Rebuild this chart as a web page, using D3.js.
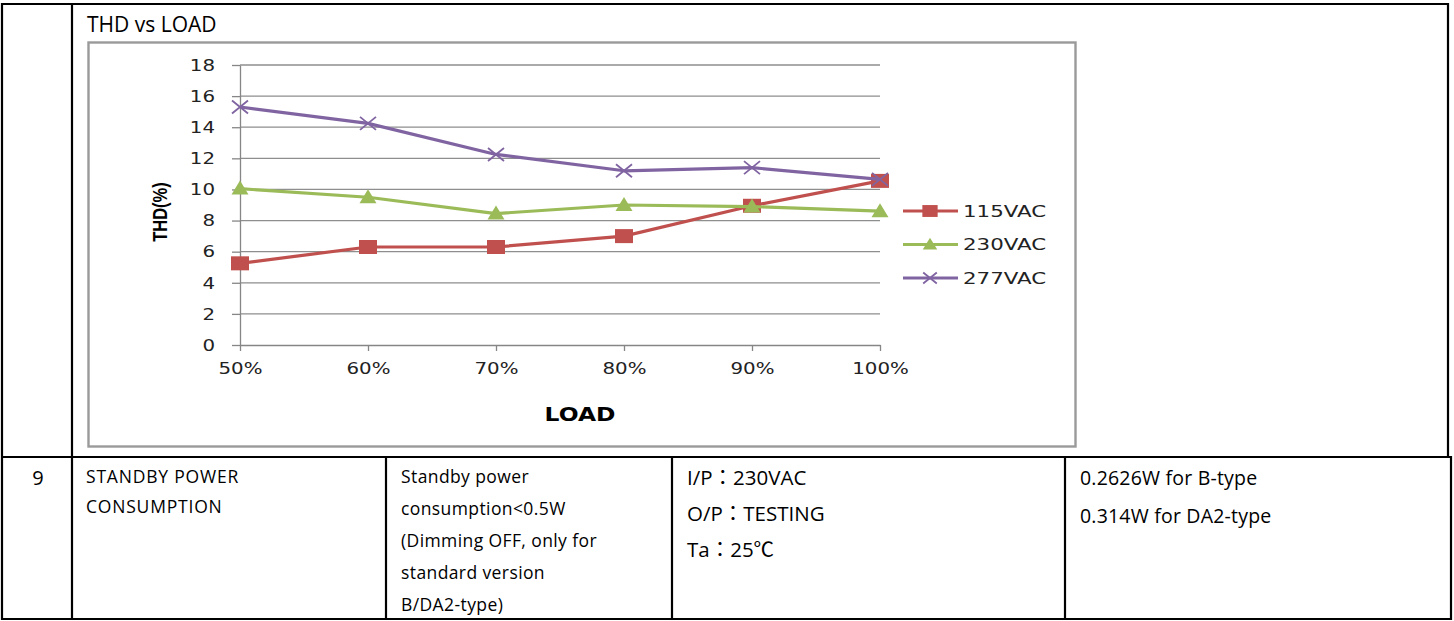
<!DOCTYPE html>
<html><head><meta charset="utf-8">
<script src="https://cdn.jsdelivr.net/npm/d3@7"></script>
<style>
html,body{margin:0;padding:0;background:#fff;}
svg{display:block;}
</style></head>
<body>
<svg id="c" width="1454" height="621"></svg>
<script>
const categories = ["50%","60%","70%","80%","90%","100%"];
const seriesNames = ["115VAC","230VAC","277VAC"];
const v115 = [5.25, 6.3, 6.3, 7.0, 8.95, 10.55];
const v230 = [10.05, 9.5, 8.45, 9.0, 8.9, 8.6];
const v277 = [15.3, 14.25, 12.25, 11.2, 11.4, 10.65];
const yTicks = [0,2,4,6,8,10,12,14,16,18];
const chartTitle = "THD vs LOAD";
const xTitle = "LOAD";
const yTitle = "THD(%)";
const rowNo = "9";
const col2Lines = ["STANDBY POWER","CONSUMPTION"];
const col3Lines = ["Standby power","consumption<0.5W","(Dimming OFF, only for","standard version","B/DA2-type)"];
const col4Lines = ["I/P：230VAC","O/P：TESTING","Ta：25℃"];
const col5Lines = ["0.2626W for B-type","0.314W for DA2-type"];

const colors = {"115VAC":"#C0504D","230VAC":"#9BBB59","277VAC":"#8064A2"};
const series = [
  {name:"115VAC", values:v115, marker:"square"},
  {name:"230VAC", values:v230, marker:"triangle"},
  {name:"277VAC", values:v277, marker:"cross"}
];

const svg = d3.select("#c");

// ---- table lines ----
const tl = svg.append("g").attr("stroke","#000").attr("stroke-width",2.2);
const L = (x1,y1,x2,y2)=>tl.append("line").attr("x1",x1).attr("y1",y1).attr("x2",x2).attr("y2",y2);
L(1,4,1449,4);
L(2,3,2,620);
L(72,3,72,620);
L(1448,3,1448,457);
L(1,457,1452,457);
L(1451,456,1451,620);
L(1,619,1452,619);
L(386,457,386,620);
L(672,457,672,620);
L(1065,457,1065,620);

const tf = "Open Sans, Noto Sans CJK TC";

// ---- chart title ----
svg.append("text").attr("x",87).attr("y",32).text(chartTitle)
  .attr("font-family",tf).attr("font-size",21).attr("fill","#000");

// ---- chart box ----
svg.append("rect").attr("x",88.5).attr("y",42.5).attr("width",987).attr("height",404)
  .attr("fill","#fff").attr("stroke","#9a9a9a").attr("stroke-width",2.4);

// ---- scales ----
const x = d3.scalePoint().domain(categories).range([240,880]);
const y = d3.scaleLinear().domain([0,18]).range([345,65]);

const chartFont = "DejaVu Sans";
const SX = 1.2; // horizontal stretch of chart lettering

// gridlines
svg.append("g").selectAll("line").data(yTicks.filter(d=>d>0)).join("line")
  .attr("x1",240).attr("x2",880).attr("y1",d=>y(d)).attr("y2",d=>y(d))
  .attr("stroke","#8e8e8e").attr("stroke-width",1.3);

// y axis
const gy = svg.append("g").attr("transform","translate(240,0)")
  .call(d3.axisLeft(y).tickValues(yTicks).tickSize(8).tickPadding(16).tickSizeOuter(0));
gy.select(".domain").attr("stroke","#868686").attr("stroke-width",1.3);
gy.selectAll(".tick line").attr("stroke","#868686").attr("stroke-width",1.3);
gy.selectAll(".tick text").attr("font-family",chartFont).attr("font-size",16.5)
  .attr("fill","#222").attr("x",-25/SX).attr("transform",`scale(${SX},1)`);

// x axis
const gx = svg.append("g").attr("transform","translate(0,345)")
  .call(d3.axisBottom(x).tickSize(6).tickPadding(11).tickSizeOuter(0));
gx.select(".domain").attr("stroke","#868686").attr("stroke-width",1.3);
gx.selectAll(".tick line").attr("stroke","#868686").attr("stroke-width",1.3);
gx.selectAll(".tick text").attr("font-family",chartFont).attr("font-size",16.5)
  .attr("fill","#222").attr("transform",`scale(${SX},1)`);

// axis titles
svg.append("text").attr("transform",`translate(580,421) scale(${SX},1)`).attr("text-anchor","middle")
  .attr("font-family",chartFont).attr("font-weight","bold").attr("font-size",19.5)
  .text(xTitle);
svg.append("text").attr("transform","translate(167,212) rotate(-90) scale(1,1.2)")
  .attr("text-anchor","middle").attr("font-family","Liberation Sans").attr("font-weight","bold")
  .attr("font-size",16.5).text(yTitle);

// markers
function drawMarker(g, type, cx, cy, color, scale){
  const s = scale||1;
  if(type==="square"){
    g.append("rect").attr("x",cx-9*s).attr("y",cy-7*s).attr("width",18*s).attr("height",14*s).attr("fill",color);
  } else if(type==="triangle"){
    const w=8.5*s, h=7*s;
    g.append("path").attr("d",`M${cx-w},${cy+h*0.85}L${cx+w},${cy+h*0.85}L${cx},${cy-h*1.15}Z`).attr("fill",color);
  } else {
    const w=8*s, h=6.5*s;
    g.append("path").attr("d",`M${cx-w},${cy-h}L${cx+w},${cy+h}M${cx-w},${cy+h}L${cx+w},${cy-h}`)
      .attr("stroke",color).attr("stroke-width",1.8).attr("fill","none");
  }
}

const line = d3.line().x((d,i)=>x(categories[i])).y(d=>y(d));
series.forEach(s=>{
  const g = svg.append("g");
  g.append("path").attr("d",line(s.values)).attr("fill","none")
    .attr("stroke",colors[s.name]).attr("stroke-width",3.2).attr("stroke-linejoin","round");
  s.values.forEach((v,i)=>drawMarker(g,s.marker,x(categories[i]),y(v),colors[s.name],1));
});

// legend
const legY = d3.scalePoint().domain(seriesNames).range([211,278]);
series.forEach(s=>{
  const g = svg.append("g");
  const yy = legY(s.name);
  g.append("line").attr("x1",903).attr("x2",958).attr("y1",yy).attr("y2",yy)
    .attr("stroke",colors[s.name]).attr("stroke-width",3.2);
  drawMarker(g,s.marker,930,yy,colors[s.name],0.85);
  g.append("text").attr("transform",`translate(963,${yy}) scale(${SX*1.08},1)`).attr("dy","0.36em")
    .attr("font-family",chartFont).attr("font-size",16.5)
    .attr("fill","#222").text(s.name);
});

// ---- bottom row text ----
svg.append("text").attr("x",38).attr("y",485).attr("text-anchor","middle")
  .attr("font-family",tf).attr("font-size",20).text(rowNo);
col2Lines.forEach((t,i)=>svg.append("text").attr("x",86).attr("y",483+i*30)
  .attr("font-family",tf).attr("font-size",17.5).attr("letter-spacing","0.8px").text(t));
col3Lines.forEach((t,i)=>svg.append("text").attr("x",401).attr("y",483+i*32)
  .attr("font-family",tf).attr("font-size",17.5).attr("letter-spacing","0.4px").text(t));
col4Lines.forEach((t,i)=>svg.append("text").attr("x",687).attr("y",485+i*36)
  .attr("font-family",tf).attr("font-size",20.5).text(t));
col5Lines.forEach((t,i)=>svg.append("text").attr("x",1080).attr("y",485+i*38)
  .attr("font-family",tf).attr("font-size",19.5).attr("letter-spacing","0.2px").text(t));
</script>
</body></html>
